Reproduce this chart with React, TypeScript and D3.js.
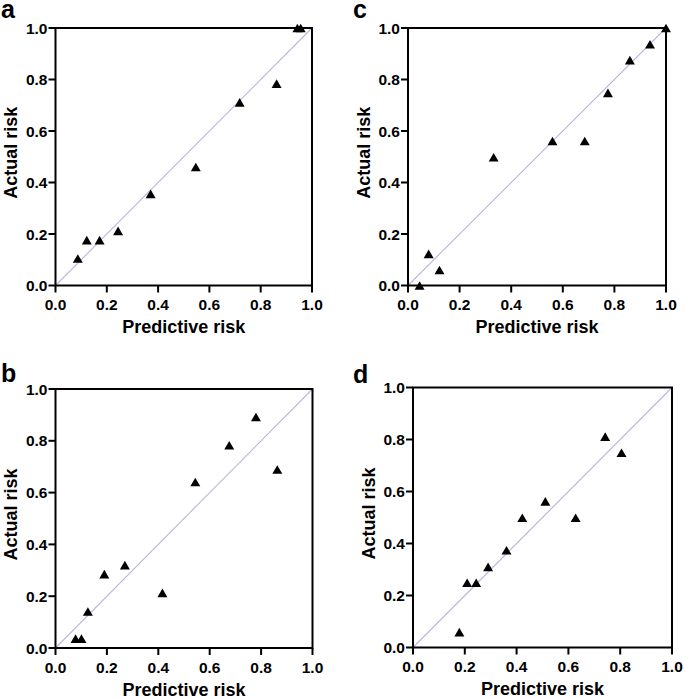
import React from "react";
import * as d3 from "d3";

const TICKS = [0, 0.2, 0.4, 0.6, 0.8, 1.0];
const X_TITLE = "Predictive risk";
const Y_TITLE = "Actual risk";

const A_PRED = [0.087, 0.122, 0.172, 0.244, 0.371, 0.547, 0.718, 0.862, 0.943, 0.956];
const A_ACT = [0.105, 0.176, 0.176, 0.212, 0.356, 0.46, 0.711, 0.784, 1.0, 1.0];

const B_PRED = [0.078, 0.101, 0.126, 0.19, 0.27, 0.416, 0.544, 0.676, 0.78, 0.863];
const B_ACT = [0.036, 0.036, 0.141, 0.285, 0.32, 0.213, 0.641, 0.783, 0.892, 0.689];

const C_PRED = [0.045, 0.08, 0.122, 0.332, 0.56, 0.685, 0.775, 0.86, 0.938, 1.0];
const C_ACT = [0.0, 0.123, 0.06, 0.498, 0.561, 0.561, 0.748, 0.875, 0.937, 1.0];

const D_PRED = [0.179, 0.209, 0.244, 0.29, 0.361, 0.422, 0.511, 0.628, 0.742, 0.805];
const D_ACT = [0.059, 0.249, 0.249, 0.31, 0.374, 0.499, 0.562, 0.499, 0.811, 0.749];

const FONT = "'Liberation Sans', Arial, Helvetica, sans-serif";
const fmt = d3.format(".1f");

type PanelProps = {
  letter: string;
  pred: number[];
  act: number[];
  left: number;
  right: number;
  top: number;
  bottom: number;
  letterX: number;
  letterY: number;
};

const TRI_SIZE = 43;
const triPath = d3.symbol(d3.symbolTriangle, TRI_SIZE)() as string;
const triOffset = Math.sqrt(TRI_SIZE / (Math.sqrt(3) * 3)) / 2;

function Panel({ letter, pred, act, left, right, top, bottom, letterX, letterY }: PanelProps) {
  const x = d3.scaleLinear().domain([0, 1]).range([left, right]);
  const y = d3.scaleLinear().domain([0, 1]).range([bottom, top]);
  const tickLen = 7;
  const cy = (top + bottom) / 2 - 4;
  const cx = (left + right) / 2;
  return (
    <g>
      <text x={letterX} y={letterY} fontFamily={FONT} fontWeight="bold" fontSize={25} fill="#000">
        {letter}
      </text>
      <line x1={x(0)} y1={y(0)} x2={x(1)} y2={y(1)} stroke="#b8b8da" strokeWidth={1.1} />
      <rect x={left} y={top} width={right - left} height={bottom - top} fill="none" stroke="#000" strokeWidth={2} />
      {TICKS.map((t) => (
        <g key={"x" + t}>
          <line x1={x(t)} x2={x(t)} y1={bottom} y2={bottom + tickLen} stroke="#000" strokeWidth={2} />
          <text x={x(t)} y={bottom + 24.5} textAnchor="middle" fontFamily={FONT} fontWeight="bold" fontSize={15.5} fill="#000">
            {fmt(t)}
          </text>
        </g>
      ))}
      {TICKS.map((t) => (
        <g key={"y" + t}>
          <line x1={left - tickLen} x2={left} y1={y(t)} y2={y(t)} stroke="#000" strokeWidth={2} />
          <text x={left - 8} y={y(t) + 5.5} textAnchor="end" fontFamily={FONT} fontWeight="bold" fontSize={15.5} fill="#000">
            {fmt(t)}
          </text>
        </g>
      ))}
      <text x={cx} y={bottom + 47.5} textAnchor="middle" fontFamily={FONT} fontWeight="bold" fontSize={18} fill="#000">
        {X_TITLE}
      </text>
      <text
        transform={`translate(${left - 38.5},${cy}) rotate(-90)`}
        textAnchor="middle"
        fontFamily={FONT}
        fontWeight="bold"
        fontSize={18}
        fill="#000"
      >
        {Y_TITLE}
      </text>
      {pred.map((p, i) => (
        <path key={i} d={triPath} transform={`translate(${x(p)},${y(act[i]) + triOffset})`} fill="#000" />
      ))}
    </g>
  );
}

export default function App() {
  return (
    <svg
      width={685}
      height={698}
      style={{ position: "absolute", left: 0, top: 0, background: "#fff" }}
    >
      <rect width={685} height={698} fill="#fff" />
      <Panel letter="a" pred={A_PRED} act={A_ACT} left={55.5} right={312} top={28} bottom={285.5} letterX={1} letterY={18} />
      <Panel letter="c" pred={C_PRED} act={C_ACT} left={408} right={666} top={28} bottom={285.5} letterX={353} letterY={18} />
      <Panel letter="b" pred={B_PRED} act={B_ACT} left={55.5} right={312.5} top={389} bottom={648} letterX={1} letterY={382} />
      <Panel letter="d" pred={D_PRED} act={D_ACT} left={413} right={672} top={387.5} bottom={647.5} letterX={353} letterY={383} />
    </svg>
  );
}
